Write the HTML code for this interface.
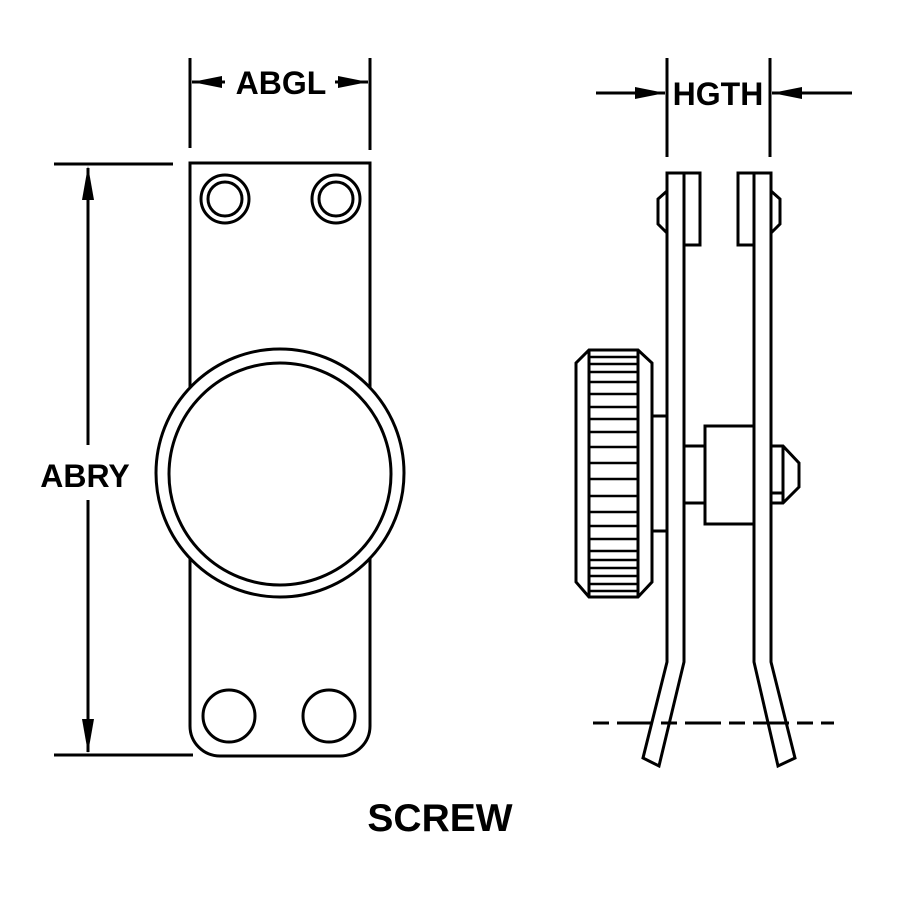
<!DOCTYPE html>
<html><head><style>html,body{margin:0;padding:0;background:#fff}</style></head>
<body>
<svg width="900" height="900" viewBox="0 0 900 900" xmlns="http://www.w3.org/2000/svg" fill="none" stroke="#000" stroke-width="3">
<path d="M190,163 H370 V726 A30,30 0 0 1 340,756 H220 A30,30 0 0 1 190,726 Z" fill="#fff"/>
<circle cx="225" cy="199" r="24"/><circle cx="225" cy="199" r="17"/>
<circle cx="336" cy="199" r="24"/><circle cx="336" cy="199" r="17"/>
<circle cx="229" cy="716" r="26"/><circle cx="329" cy="716" r="26"/>
<circle cx="280" cy="473" r="124" fill="#fff"/><circle cx="280" cy="474" r="111"/>
<line x1="190" y1="58" x2="190" y2="148"/><line x1="370" y1="58" x2="370" y2="150"/>
<line x1="192" y1="82" x2="225" y2="82"/><line x1="335" y1="82" x2="368" y2="82"/>
<polygon points="192,82 222,76 222,88" fill="#000" stroke="none"/>
<polygon points="368,82 338,76 338,88" fill="#000" stroke="none"/>
<text x="281" y="94" font-family="Liberation Sans, sans-serif" font-weight="bold" font-size="32" text-anchor="middle" fill="#000" stroke="none">ABGL</text>
<line x1="54" y1="164" x2="173" y2="164"/><line x1="54" y1="755" x2="193" y2="755"/>
<line x1="88" y1="168" x2="88" y2="445"/><line x1="88" y1="500" x2="88" y2="752"/>
<polygon points="88,166 82,200 94,200" fill="#000" stroke="none"/>
<polygon points="88,753 82,719 94,719" fill="#000" stroke="none"/>
<text x="85" y="487" font-family="Liberation Sans, sans-serif" font-weight="bold" font-size="32" text-anchor="middle" fill="#000" stroke="none">ABRY</text>
<line x1="667" y1="58" x2="667" y2="157"/><line x1="770" y1="58" x2="770" y2="157"/>
<line x1="596" y1="93" x2="665" y2="93"/><line x1="772" y1="93" x2="852" y2="93"/>
<polygon points="665,93 635,87 635,99" fill="#000" stroke="none"/>
<polygon points="772,93 802,87 802,99" fill="#000" stroke="none"/>
<text x="718" y="105" font-family="Liberation Sans, sans-serif" font-weight="bold" font-size="32" text-anchor="middle" fill="#000" stroke="none">HGTH</text>
<path d="M667,173 H684 V662 L659,766 L643,758 L667,662 Z"/>
<path d="M684,173 H700 V245 H684"/>
<path d="M667,191 L658,199 V224 L667,233"/>
<path d="M754,173 H771 V662 L795,758 L778,766 L754,662 Z"/>
<path d="M754,173 H738 V245 H754"/>
<path d="M771,191 L780,199 V224 L771,233"/>
<path d="M589,350 H638 L652,363 V582 L638,597 H589 L576,582 V363 Z"/>
<line x1="589" y1="350" x2="589" y2="597"/><line x1="638" y1="350" x2="638" y2="597"/>
<g stroke-width="2.5">
<line x1="589" y1="357" x2="638" y2="357"/><line x1="589" y1="364" x2="638" y2="364"/>
<line x1="589" y1="372" x2="638" y2="372"/><line x1="589" y1="382" x2="638" y2="382"/>
<line x1="589" y1="394" x2="638" y2="394"/><line x1="589" y1="407" x2="638" y2="407"/>
<line x1="589" y1="419" x2="638" y2="419"/><line x1="589" y1="432" x2="638" y2="432"/>
<line x1="589" y1="447" x2="638" y2="447"/><line x1="589" y1="463" x2="638" y2="463"/>
<line x1="589" y1="479" x2="638" y2="479"/><line x1="589" y1="496" x2="638" y2="496"/>
<line x1="589" y1="512" x2="638" y2="512"/><line x1="589" y1="526" x2="638" y2="526"/>
<line x1="589" y1="539" x2="638" y2="539"/><line x1="589" y1="551" x2="638" y2="551"/>
<line x1="589" y1="560" x2="638" y2="560"/><line x1="589" y1="568" x2="638" y2="568"/>
<line x1="589" y1="576" x2="638" y2="576"/><line x1="589" y1="584" x2="638" y2="584"/>
<line x1="589" y1="591" x2="638" y2="591"/>
</g>
<path d="M652,416 H667 M652,531 H667"/>
<path d="M684,446 H705 M684,503 H705"/>
<rect x="705" y="426" width="49" height="98"/>
<path d="M771,446 H783 L799,463 V487 L783,503 H771 M771,493 H783 M783,446 V503"/>
<line x1="593" y1="723" x2="834" y2="723" stroke-dasharray="16,8,36,8"/>
<text x="440" y="831" font-family="Liberation Sans, sans-serif" font-weight="bold" font-size="39" text-anchor="middle" fill="#000" stroke="none">SCREW</text>
</svg>
</body></html>
